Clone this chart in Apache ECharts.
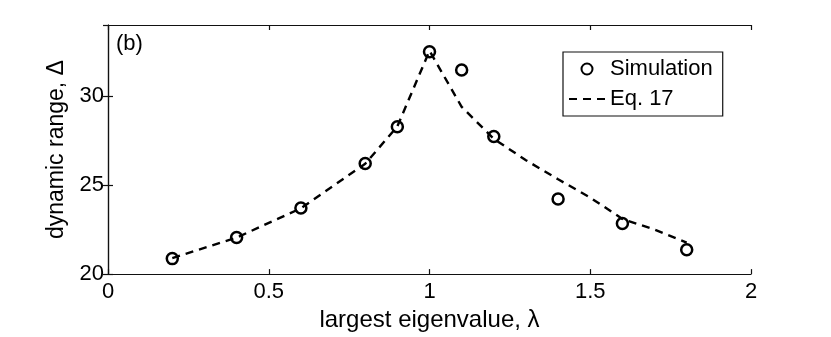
<!DOCTYPE html>
<html>
<head>
<meta charset="utf-8">
<script src="https://cdn.jsdelivr.net/npm/echarts@6/dist/echarts.min.js"></script>
<style>html,body{margin:0;padding:0;background:#fff}#c{width:831px;height:337px}</style>
</head>
<body>
<div id="c"></div>
<script>
var simX = [0.2, 0.4, 0.6, 0.8, 0.9, 1.0, 1.1, 1.2, 1.4, 1.6, 1.8];
var simY = [20.87, 22.06, 23.72, 26.22, 28.28, 32.5, 31.47, 27.73, 24.22, 22.84, 21.37];
var eqX = [0.2, 0.4, 0.6, 0.8, 0.9, 1.0, 1.1, 1.2, 1.3, 1.4, 1.5, 1.6, 1.7, 1.8];
var eqY = [20.9, 22.05, 23.7, 26.2, 28.3, 32.55, 29.4, 27.6, 26.4, 25.33, 24.3, 23.1, 22.5, 21.77];
var xTicks = ['0', '0.5', '1', '1.5', '2'];
var yTicks = ['20', '25', '30'];
var seriesNames = ['Simulation', 'Eq. 17'];

var FONT = '"Liberation Sans", Arial, Helvetica, sans-serif';
var simData = simX.map(function (x, i) { return [x, simY[i]]; });
var eqData = eqX.map(function (x, i) { return [x, eqY[i]]; });

var axisLine = { show: true, lineStyle: { color: '#111', width: 1.2 } };
var axisTick = { show: true, inside: true, length: 5, lineStyle: { color: '#111', width: 1.2 } };

var chart = echarts.init(document.getElementById('c'), null, { renderer: 'canvas' });
chart.setOption({
  animation: false,
  backgroundColor: '#fff',
  textStyle: { fontFamily: FONT },
  title: {
    text: '(b)', left: 116, top: 33, padding: 0,
    textStyle: { fontFamily: FONT, fontSize: 22, fontWeight: 'normal', color: '#000' }
  },
  grid: { left: 108, right: 80, top: 25, bottom: 59, containLabel: false },
  legend: {
    orient: 'vertical',
    left: 563, top: 52,
    padding: [6, 10, 6, 5],
    itemGap: 8,
    itemWidth: 36,
    itemHeight: 11,
    borderColor: '#111', borderWidth: 1.2,
    backgroundColor: '#fff',
    textStyle: { fontFamily: FONT, fontSize: 22, color: '#000' },
    data: [
      { name: seriesNames[0] },
      { name: seriesNames[1], itemStyle: { color: 'rgba(0,0,0,0)', borderWidth: 0, opacity: 0 } }
    ]
  },
  xAxis: [{
    type: 'value', min: 0, max: 2, interval: 0.5,
    name: 'largest eigenvalue, λ', nameLocation: 'middle', nameGap: 27,
    nameTextStyle: { fontFamily: FONT, fontSize: 24, color: '#000' },
    axisLine: axisLine, axisTick: axisTick, splitLine: { show: false },
    axisLabel: { fontFamily: FONT, fontSize: 22, color: '#000', margin: 7,
      formatter: function (v) { var i = Math.round(v / 0.5); return xTicks[i] !== undefined ? xTicks[i] : ''; } }
  }, {
    type: 'value', min: 0, max: 2, interval: 0.5, position: 'top',
    axisLine: axisLine, axisTick: axisTick, splitLine: { show: false }, axisLabel: { show: false }
  }],
  yAxis: [{
    type: 'value', min: 20, max: 34, interval: 5,
    name: 'dynamic range, Δ', nameLocation: 'middle', nameGap: 34,
    nameTextStyle: { fontFamily: FONT, fontSize: 23, color: '#000' },
    axisLine: axisLine, axisTick: axisTick, splitLine: { show: false },
    axisLabel: { fontFamily: FONT, fontSize: 22, color: '#000', margin: 4, showMaxLabel: false,
      formatter: function (v) { var i = Math.round((v - 20) / 5); return (Math.abs(v - 20 - i * 5) < 1e-6 && yTicks[i]) ? yTicks[i] : ''; } }
  }, {
    type: 'value', min: 20, max: 34, interval: 5, position: 'right',
    axisLine: axisLine, axisTick: axisTick, splitLine: { show: false }, axisLabel: { show: false }
  }],
  series: [{
    name: seriesNames[0], type: 'scatter', data: simData, z: 3,
    symbol: 'circle', symbolSize: 11,
    itemStyle: { color: 'rgba(0,0,0,0)', borderColor: '#000', borderWidth: 2.5, opacity: 1 }
  }, {
    name: seriesNames[1], type: 'line', data: eqData, z: 2,
    symbol: 'none', showSymbol: false,
    lineStyle: { color: '#000', width: 2.4, type: [8, 6] },
    itemStyle: { color: '#000' }
  }]
});
</script>
</body>
</html>
